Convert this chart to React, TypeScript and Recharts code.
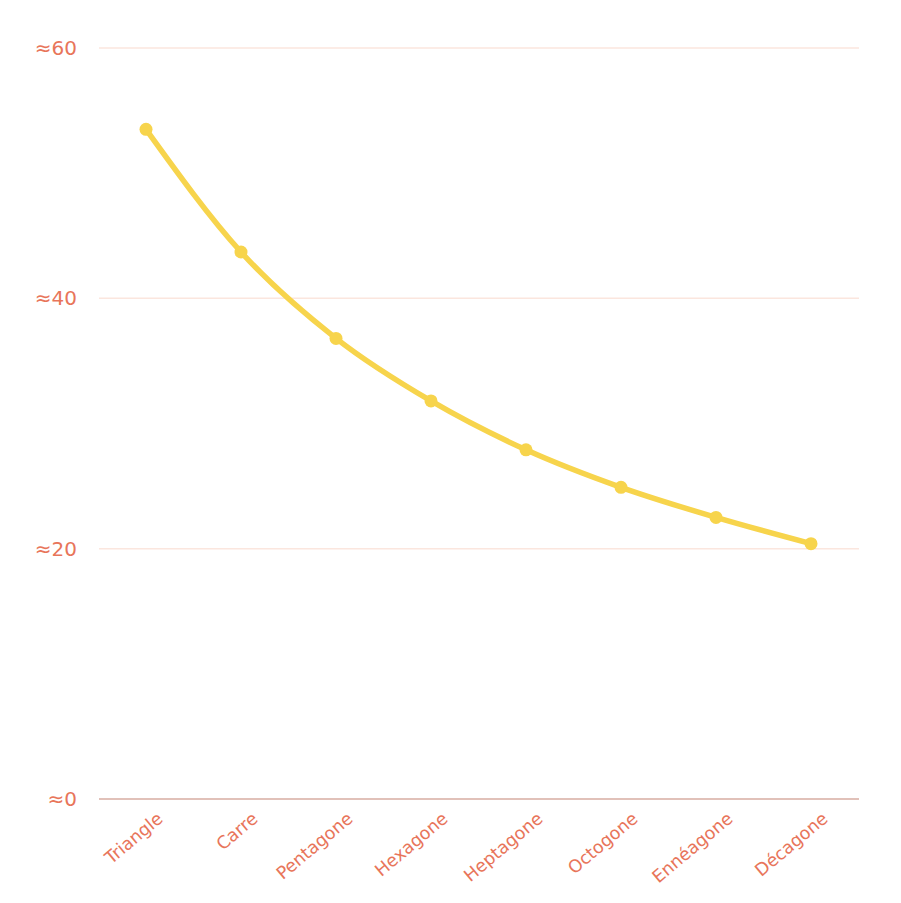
import { LineChart, Line, XAxis, YAxis, CartesianGrid } from 'recharts';

const shapes = ['Triangle', 'Carre', 'Pentagone', 'Hexagone', 'Heptagone', 'Octogone', 'Ennéagone', 'Décagone'];
const values = [53.5, 43.7, 36.8, 31.8, 27.9, 24.9, 22.5, 20.4];
const yTicks = [0, 20, 40, 60];

const data = shapes.map((name, i) => ({ name, v: values[i] }));

const labelColor = '#e8755a';
const font = "'DejaVu Sans', sans-serif";

export default function App() {
  return (
    <div style={{ width: 901, height: 903, background: '#fff' }}>
      <style>{'body{margin:0}'}</style>
      <LineChart
        width={901}
        height={903}
        data={data}
        margin={{ top: 48, right: 42, left: 0, bottom: 0 }}
      >
        <CartesianGrid vertical={false} stroke="#fbe6de" strokeWidth={1.5} />
        <XAxis
          dataKey="name"
          height={104}
          padding={{ left: 47, right: 48 }}
          axisLine={{ stroke: '#d9b3aa', strokeWidth: 1.5 }}
          tickLine={false}
          interval={0}
          angle={-40}
          textAnchor="end"
          tickMargin={6}
          dx={10}
          tick={{ fill: labelColor, fontSize: 17.5, fontFamily: font }}
        />
        <YAxis
          width={99}
          domain={[0, 60]}
          ticks={yTicks}
          axisLine={false}
          tickLine={false}
          tickMargin={16}
          tickFormatter={v => '≈' + v}
          tick={{ fill: labelColor, fontSize: 20, fontFamily: font }}
        />
        <Line
          type="monotone"
          dataKey="v"
          stroke="#f7d44c"
          strokeWidth={5.5}
          dot={{ r: 6.5, fill: '#f7d44c', stroke: '#f7d44c', strokeWidth: 0 }}
          activeDot={false}
          isAnimationActive={false}
        />
      </LineChart>
    </div>
  );
}
